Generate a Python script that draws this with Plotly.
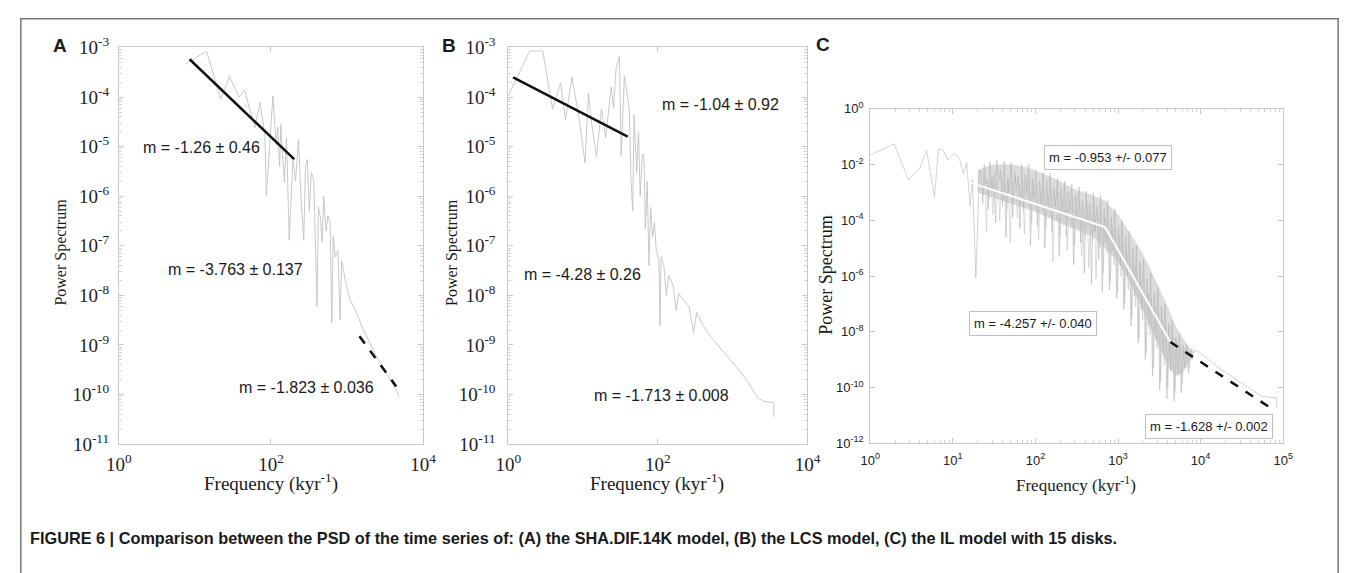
import plotly.graph_objects as go

W, H = 1357, 573

# ---------------- Panel A : SHA.DIF.14K ----------------
a_freq = [7.5, 14.2, 21.8, 28.4, 38, 45, 53, 61.5, 71.5, 83,
          87, 106, 117, 123, 130, 135, 150, 160, 174, 195,
          210, 230, 250, 270, 285, 300, 320, 340, 365, 380,
          404, 420, 447, 470, 495, 530, 560, 600, 630, 660,
          700, 760, 813, 850, 900, 1000, 1100, 1300, 1600, 2000,
          2500, 3000, 3500, 4000, 4500, 4800]
a_pow = [4.6e-4, 8.4e-4, 9.1e-5, 2.6e-4, 1.0e-4, 1.4e-4, 5.4e-5, 2.4e-5, 7.8e-5, 1.8e-5,
         1.05e-6, 1.05e-4, 1.1e-5, 2.5e-5, 4e-6, 2.8e-5, 1.9e-6, 1.5e-5, 1.3e-7, 6e-6,
         2e-6, 1.4e-5, 8e-7, 1.3e-7, 4e-6, 5.5e-6, 5e-7, 3e-6, 2.2e-6, 3e-7,
         5.9e-9, 6e-7, 3.7e-7, 1.2e-7, 1e-6, 2e-7, 4e-7, 3e-7, 2.8e-9, 1.6e-7,
         6e-8, 8e-8, 3.2e-9, 5e-8, 3e-8, 1.4e-8, 8e-9, 5e-9, 2.2e-9, 1.1e-9,
         5.5e-10, 3.5e-10, 2.3e-10, 1.6e-10, 1.2e-10, 9.3e-11]
a_fit1_freq = [8.5, 202]
a_fit1_pow = [5.8e-4, 5.6e-6]
a_fit3_freq = [1460, 4450]
a_fit3_pow = [1.5e-9, 1.45e-10]
a_labels = ["m = -1.26 ± 0.46", "m = -3.763 ± 0.137", "m = -1.823 ± 0.036"]

# ---------------- Panel B : LCS ----------------
b_freq = [1.0, 1.92, 2.88, 3.9, 5.0, 5.8, 7.1, 8.7, 10.6, 11.8,
          13, 15.1, 17.6, 20, 23.8, 25.5, 27.6, 30.6, 32.3, 35.6,
          41.4, 43.5, 46, 48, 52, 55, 58, 62, 65, 68,
          72, 76, 80, 85, 90, 95, 103, 107, 110, 120,
          130, 140, 160, 175, 190, 220, 260, 300, 330, 400,
          500, 600, 800, 1000, 1334, 1600, 2000, 2208, 2600, 3000,
          3550, 3555]
b_pow = [1.05e-4, 8.4e-4, 8.6e-4, 5.8e-5, 1.9e-4, 3.5e-5, 2.5e-4, 4.3e-5, 4.7e-6, 1.2e-4,
         3e-5, 6.3e-6, 5.8e-5, 1.5e-5, 1.6e-4, 6e-5, 3.7e-4, 6.7e-4, 6.7e-6, 2.6e-4,
         5.8e-5, 2.6e-6, 5e-7, 4.3e-5, 3e-6, 2e-5, 1e-6, 7.2e-6, 6.8e-6, 2.2e-7,
         2e-6, 4e-8, 6e-7, 1.5e-7, 3e-7, 8e-8, 5e-8, 2.4e-9, 6e-8, 4e-8,
         1e-8, 2.5e-8, 1.6e-8, 5e-9, 1.1e-8, 8e-9, 6e-9, 1.8e-9, 4.5e-9, 2.5e-9,
         1.5e-9, 1.1e-9, 6.5e-10, 4.4e-10, 2.6e-10, 1.8e-10, 1.05e-10, 8.5e-11, 7.3e-11, 7e-11,
         6.9e-11, 3.5e-11]
b_fit1_freq = [1.16, 39.5]
b_fit1_pow = [2.5e-4, 1.6e-5]
b_labels = ["m = -1.04 ± 0.92", "m = -4.28 ± 0.26", "m = -1.713 ± 0.008"]

# ---------------- Panel C : IL model, 15 disks (log10 of power) ----------------
c_head_freq = [1.0, 1.95, 2.9, 4.0, 4.8, 6.0, 6.7, 7.6, 8.7, 10.5, 12, 13.5, 14.7, 16.2, 17.3, 19, 21]
c_head_log = [-1.66, -1.26, -2.55, -2.12, -1.49, -3.15, -1.43, -1.49, -1.83, -1.58, -1.78, -2.35,
              -1.93, -3.5, -2.52, -6.07, -2.18]
c_dense_freq = [22, 23, 24, 25, 26, 27, 28, 30, 31, 33, 34, 36, 38, 40, 42, 44, 46, 48, 51, 53,
                56, 59, 62, 65, 68, 72, 75, 79, 83, 87, 92, 96, 101, 106, 112, 118, 124, 130, 137, 144,
                151, 159, 167, 176, 185, 194, 204, 215, 226, 237, 249, 262, 276, 290, 305, 320, 337, 354,
                372, 391, 411, 432, 455, 478, 502, 528, 555, 584, 614, 645, 678, 713, 750, 788, 829, 871,
                916, 963, 1012, 1064, 1119, 1176, 1237, 1300, 1367, 1437, 1511, 1588, 1670, 1755, 1845,
                1940, 2040, 2144, 2254, 2370, 2492, 2619, 2754, 2895, 3044, 3200, 3364, 3537, 3718, 3909,
                4110, 4321, 4542, 4775, 5020, 5278, 5549, 5833, 6133, 6447, 6778, 7126, 7492, 7876, 8280]
c_dense_log = [-2.3, -3.4, -2.0, -2.7, -2.6, -3.6, -1.9, -2.9, -2.4, -4.1, -1.85, -2.6, -2.2, -3.5,
               -1.9, -4.6, -2.5, -3.0, -1.95, -3.9, -2.3, -2.9, -2.4, -4.3, -2.0, -3.6, -2.35, -3.0,
               -2.0, -4.9, -2.5, -3.2, -2.2, -4.2, -2.6, -3.4, -2.3, -5.0, -2.6, -3.6, -2.3, -4.4,
               -2.8, -3.5, -2.5, -5.3, -2.9, -3.8, -2.6, -4.6, -3.0, -3.7, -2.7, -5.6, -3.1, -4.0,
               -2.8, -4.8, -3.3, -5.9, -2.95, -4.2, -3.4, -6.3, -3.0, -4.4, -3.5, -5.4, -3.1, -6.6,
               -3.6, -4.8, -3.3, -6.5, -3.9, -5.1, -3.6, -6.8, -4.2, -5.6, -4.0, -7.2, -4.6, -6.0,
               -4.4, -7.8, -5.0, -6.7, -4.9, -8.4, -5.5, -7.2, -5.4, -9.0, -6.1, -7.8, -5.9, -9.6,
               -6.6, -8.3, -6.4, -10.1, -7.1, -8.8, -7.0, -10.4, -7.7, -9.4, -7.6, -10.5, -8.2, -9.5,
               -8.1, -10.2, -8.5, -9.3, -8.45, -9.5, -8.7, -9.0, -8.65]
c_dense2_freq = [22.5, 23.5, 24.5, 25.5, 26.5, 27.5, 29, 30.5, 32, 33.5, 35, 37, 39, 41, 43, 45, 47,
                 49.5, 52, 54.5, 57.5, 60.5, 63.5, 66.5, 70, 73.5, 77, 81, 85, 89.5, 94, 98.5, 103.5,
                 109, 115, 121, 127, 133.5, 140.5, 147.5, 155, 163, 171.5, 180.5, 189.5, 199, 209.5,
                 220.5, 231.5, 243, 255.5, 269, 283, 297.5, 312.5, 328.5, 345.5, 363, 381.5, 401, 421.5,
                 443.5, 466.5, 490, 515, 541.5, 569.5, 599, 629.5, 661.5, 695.5, 731.5, 769, 808.5, 850,
                 893.5, 939.5, 987.5, 1038, 1091.5, 1147.5, 1206.5, 1268.5, 1333.5, 1402, 1474, 1549.5,
                 1629, 1712.5, 1800, 1892.5, 1990, 2092, 2199, 2312, 2431, 2555.5, 2686.5, 2824.5,
                 2969.5, 3122, 3282, 3450.5, 3627.5, 3813.5, 4009.5, 4215.5, 4431.5, 4658.5, 4897.5,
                 5149, 5413.5, 5691, 5983, 6290, 6612.5, 6952, 7309, 7684, 8078]
c_dense2_log = [-2.6, -3.1, -2.4, -4.4, -2.7, -3.2, -2.5, -3.8, -2.3, -3.0, -2.6, -4.0, -2.4, -3.3,
                -2.7, -3.6, -2.5, -4.8, -2.6, -3.3, -2.45, -3.9, -2.7, -3.4, -2.6, -4.5, -2.8, -3.5,
                -2.5, -4.1, -2.9, -3.6, -2.7, -4.7, -3.0, -3.7, -2.8, -4.3, -3.1, -3.9, -2.9, -5.5,
                -3.2, -4.0, -3.0, -4.6, -3.3, -4.2, -3.1, -5.1, -3.4, -4.3, -3.2, -4.9, -3.5, -4.4,
                -3.3, -5.3, -3.6, -4.6, -3.4, -5.7, -3.7, -4.8, -3.5, -6.1, -3.8, -5.0, -3.7, -5.9,
                -3.9, -5.2, -4.0, -6.2, -4.2, -5.6, -4.3, -6.6, -4.6, -6.0, -4.8, -7.0, -5.1, -6.5,
                -5.3, -7.5, -5.6, -7.1, -5.8, -8.2, -6.1, -7.6, -6.3, -8.8, -6.6, -8.1, -6.8, -9.3,
                -7.1, -8.6, -7.3, -9.8, -7.6, -9.2, -7.8, -10.0, -8.0, -9.4, -8.2, -10.2, -8.35, -9.5,
                -8.45, -9.9, -8.55, -9.2, -8.6, -9.3, -8.65, -8.8]
c_tail_freq = [9800, 15000, 24500, 40000, 55000, 70000, 83000, 84000]
c_tail_log = [-8.75, -9.2, -9.63, -10.05, -10.32, -10.36, -10.37, -10.72]
c_band_freq = [20, 30, 50, 80, 120, 200, 300, 500, 700, 1000, 1500, 2000, 3000, 4000, 5000, 6000, 7000, 8000]
c_band_hi = [-2.2, -2.0, -2.0, -2.1, -2.3, -2.6, -2.9, -3.1, -3.3, -3.8, -4.6, -5.2, -6.3, -7.1, -7.8, -8.2, -8.5, -8.65]
c_band_lo = [-3.0, -3.2, -3.4, -3.6, -3.8, -4.1, -4.3, -4.6, -5.0, -5.5, -6.4, -7.2, -8.4, -9.2, -9.6, -9.5, -9.2, -8.8]
c_fit_freq = [16, 695, 4300]
c_fit_log = [-2.64, -4.24, -8.37]
c_fit3_freq = [4300, 76000]
c_fit3_log = [-8.37, -10.8]
c_labels = ["m = -0.953 +/- 0.077", "m = -4.257 +/- 0.040", "m = -1.628 +/- 0.002"]

caption = ("FIGURE 6 | Comparison between the PSD of the time series of: (A) the SHA.DIF.14K model, "
           "(B) the LCS model, (C) the IL model with 15 disks.")


def X(p):
    return p / W


def Y(p):
    return 1 - p / H


def pw(v):
    return [10 ** e for e in v]


fig = go.Figure()

GRAY = "#c2c2c2"
common = dict(mode="lines", showlegend=False, hoverinfo="skip")

# Panel A
fig.add_trace(go.Scatter(x=a_freq, y=a_pow, line=dict(color=GRAY, width=0.9), xaxis="x", yaxis="y", **common))
fig.add_trace(go.Scatter(x=a_fit1_freq, y=a_fit1_pow, line=dict(color="#111", width=2.5), xaxis="x", yaxis="y", **common))
fig.add_trace(go.Scatter(x=a_fit3_freq, y=a_fit3_pow, line=dict(color="#111", width=2.5, dash="dash"), xaxis="x", yaxis="y", **common))

# Panel B
fig.add_trace(go.Scatter(x=b_freq, y=b_pow, line=dict(color=GRAY, width=0.9), xaxis="x2", yaxis="y2", **common))
fig.add_trace(go.Scatter(x=b_fit1_freq, y=b_fit1_pow, line=dict(color="#111", width=2.5), xaxis="x2", yaxis="y2", **common))

# Panel C
band_x = c_band_freq + c_band_freq[::-1]
band_y = pw(c_band_hi) + pw(c_band_lo)[::-1]
fig.add_trace(go.Scatter(x=band_x, y=band_y, fill="toself", fillcolor="#dcdcdc", line=dict(width=0),
                         xaxis="x3", yaxis="y3", **common))
fig.add_trace(go.Scatter(x=c_dense2_freq, y=pw(c_dense2_log), line=dict(color="#c6c6c6", width=0.6),
                         xaxis="x3", yaxis="y3", **common))
c_freq = c_head_freq + c_dense_freq + c_tail_freq
c_log = c_head_log + c_dense_log + c_tail_log
fig.add_trace(go.Scatter(x=c_freq, y=pw(c_log), line=dict(color="#b6b6b6", width=0.6), xaxis="x3", yaxis="y3", **common))
fig.add_trace(go.Scatter(x=c_fit_freq, y=pw(c_fit_log), line=dict(color="#ffffff", width=2), xaxis="x3", yaxis="y3", **common))
fig.add_trace(go.Scatter(x=c_fit3_freq, y=pw(c_fit3_log), line=dict(color="#111", width=2.5, dash="dash"), xaxis="x3", yaxis="y3", **common))

SERIF = "Liberation Serif, Times New Roman, serif"
SANS = "Liberation Sans, Arial, sans-serif"
AX = "#c8c8c8"


def sup_labels(exps):
    return ["10<sup>%d</sup>" % e for e in exps]


def minor_vals(lo, hi):
    return [m * 10.0 ** k for k in range(lo, hi) for m in range(2, 10)]


def axis(domain, rng, anchor, exps, font, minor=None, standoff=3):
    d = dict(type="log", domain=domain, range=rng, anchor=anchor, showline=True, linecolor=AX,
             linewidth=1, mirror="ticks", ticks="inside", ticklen=5, tickcolor=AX, tickwidth=1,
             tickmode="array", tickvals=[10.0 ** e for e in exps], ticktext=sup_labels(exps),
             tickfont=font, showgrid=False, zeroline=False, ticklabelstandoff=standoff)
    if minor is not None:
        d["minor"] = dict(tickmode="array", tickvals=minor, ticks="inside", ticklen=3,
                          tickcolor="#d4d4d4", showgrid=False)
    return d


tick_serif = dict(family=SERIF, size=19, color="#222")
tick_sans = dict(family=SANS, size=13, color="#222")

ydomAB = [Y(450), Y(36)]
fig.update_layout(
    width=W, height=H, margin=dict(l=0, r=0, t=0, b=0),
    paper_bgcolor="white", plot_bgcolor="white",
    xaxis=axis([X(108), X(418)], [0, 4], "y", [0, 2, 4], tick_serif, standoff=3),
    yaxis=axis(ydomAB, [-11, -3], "x", list(range(-11, -2)), tick_serif, minor_vals(-11, -3), standoff=5),
    xaxis2=axis([X(505), X(810)], [0, 4], "y2", [0, 2, 4], tick_serif, standoff=3),
    yaxis2=axis(ydomAB, [-11, -3], "x2", list(range(-11, -2)), tick_serif, minor_vals(-11, -3), standoff=8),
    xaxis3=axis([X(874), X(1295)], [0, 5], "y3", [0, 1, 2, 3, 4, 5], tick_sans, minor_vals(0, 5), standoff=5),
    yaxis3=axis([Y(449), Y(100)], [-12, 0], "x3", [-12, -10, -8, -6, -4, -2, 0], tick_sans, standoff=3),
)

anns = []


def txt(x, y, s, size, family=SANS, angle=0, xanchor="center", **kw):
    anns.append(dict(x=X(x), y=Y(y), xref="paper", yref="paper", text=s, showarrow=False,
                     textangle=angle, xanchor=xanchor, yanchor="middle",
                     font=dict(family=family, size=size, color="#1a1a1a"), **kw))


# panel letters
txt(48, 34, "<b>A</b>", 19)
txt(445, 34, "<b>B</b>", 19)
txt(826, 33, "<b>C</b>", 19)

# axis titles
freq_title = "Frequency (kyr<sup>-1</sup>)"
txt(48, 250, "Power Spectrum", 16, SERIF, -90)
txt(263, 490, freq_title, 19, SERIF)
txt(447, 250, "Power Spectrum", 16, SERIF, -90)
txt(657, 490, freq_title, 19, SERIF)
txt(828, 274, "Power Spectrum", 18, SERIF, -90)
txt(1084, 492, freq_title, 17, SERIF)

# slope labels
txt(192, 140, a_labels[0], 16)
txt(227, 268, a_labels[1], 16)
txt(299, 391, a_labels[2], 16)
txt(721, 96, b_labels[0], 16)
txt(581, 273, b_labels[1], 16)
txt(661, 399, b_labels[2], 16)
box = dict(bordercolor="#bdbdbd", borderwidth=1, borderpad=4, bgcolor="white")
txt(1116, 151, c_labels[0], 13, **box)
txt(1040, 324, c_labels[1], 13, **box)
txt(1219, 432, c_labels[2], 13, **box)

# caption
txt(15, 548, "<b>" + caption + "</b>", 16.3, SANS, xanchor="left")

fig.update_layout(annotations=anns)

# figure frame
fig.add_shape(type="rect", xref="paper", yref="paper", x0=X(8), x1=X(1351), y0=Y(590), y1=Y(6),
              line=dict(color="#777", width=1.5), fillcolor="rgba(0,0,0,0)", layer="below")

fig.write_html("out.html")
